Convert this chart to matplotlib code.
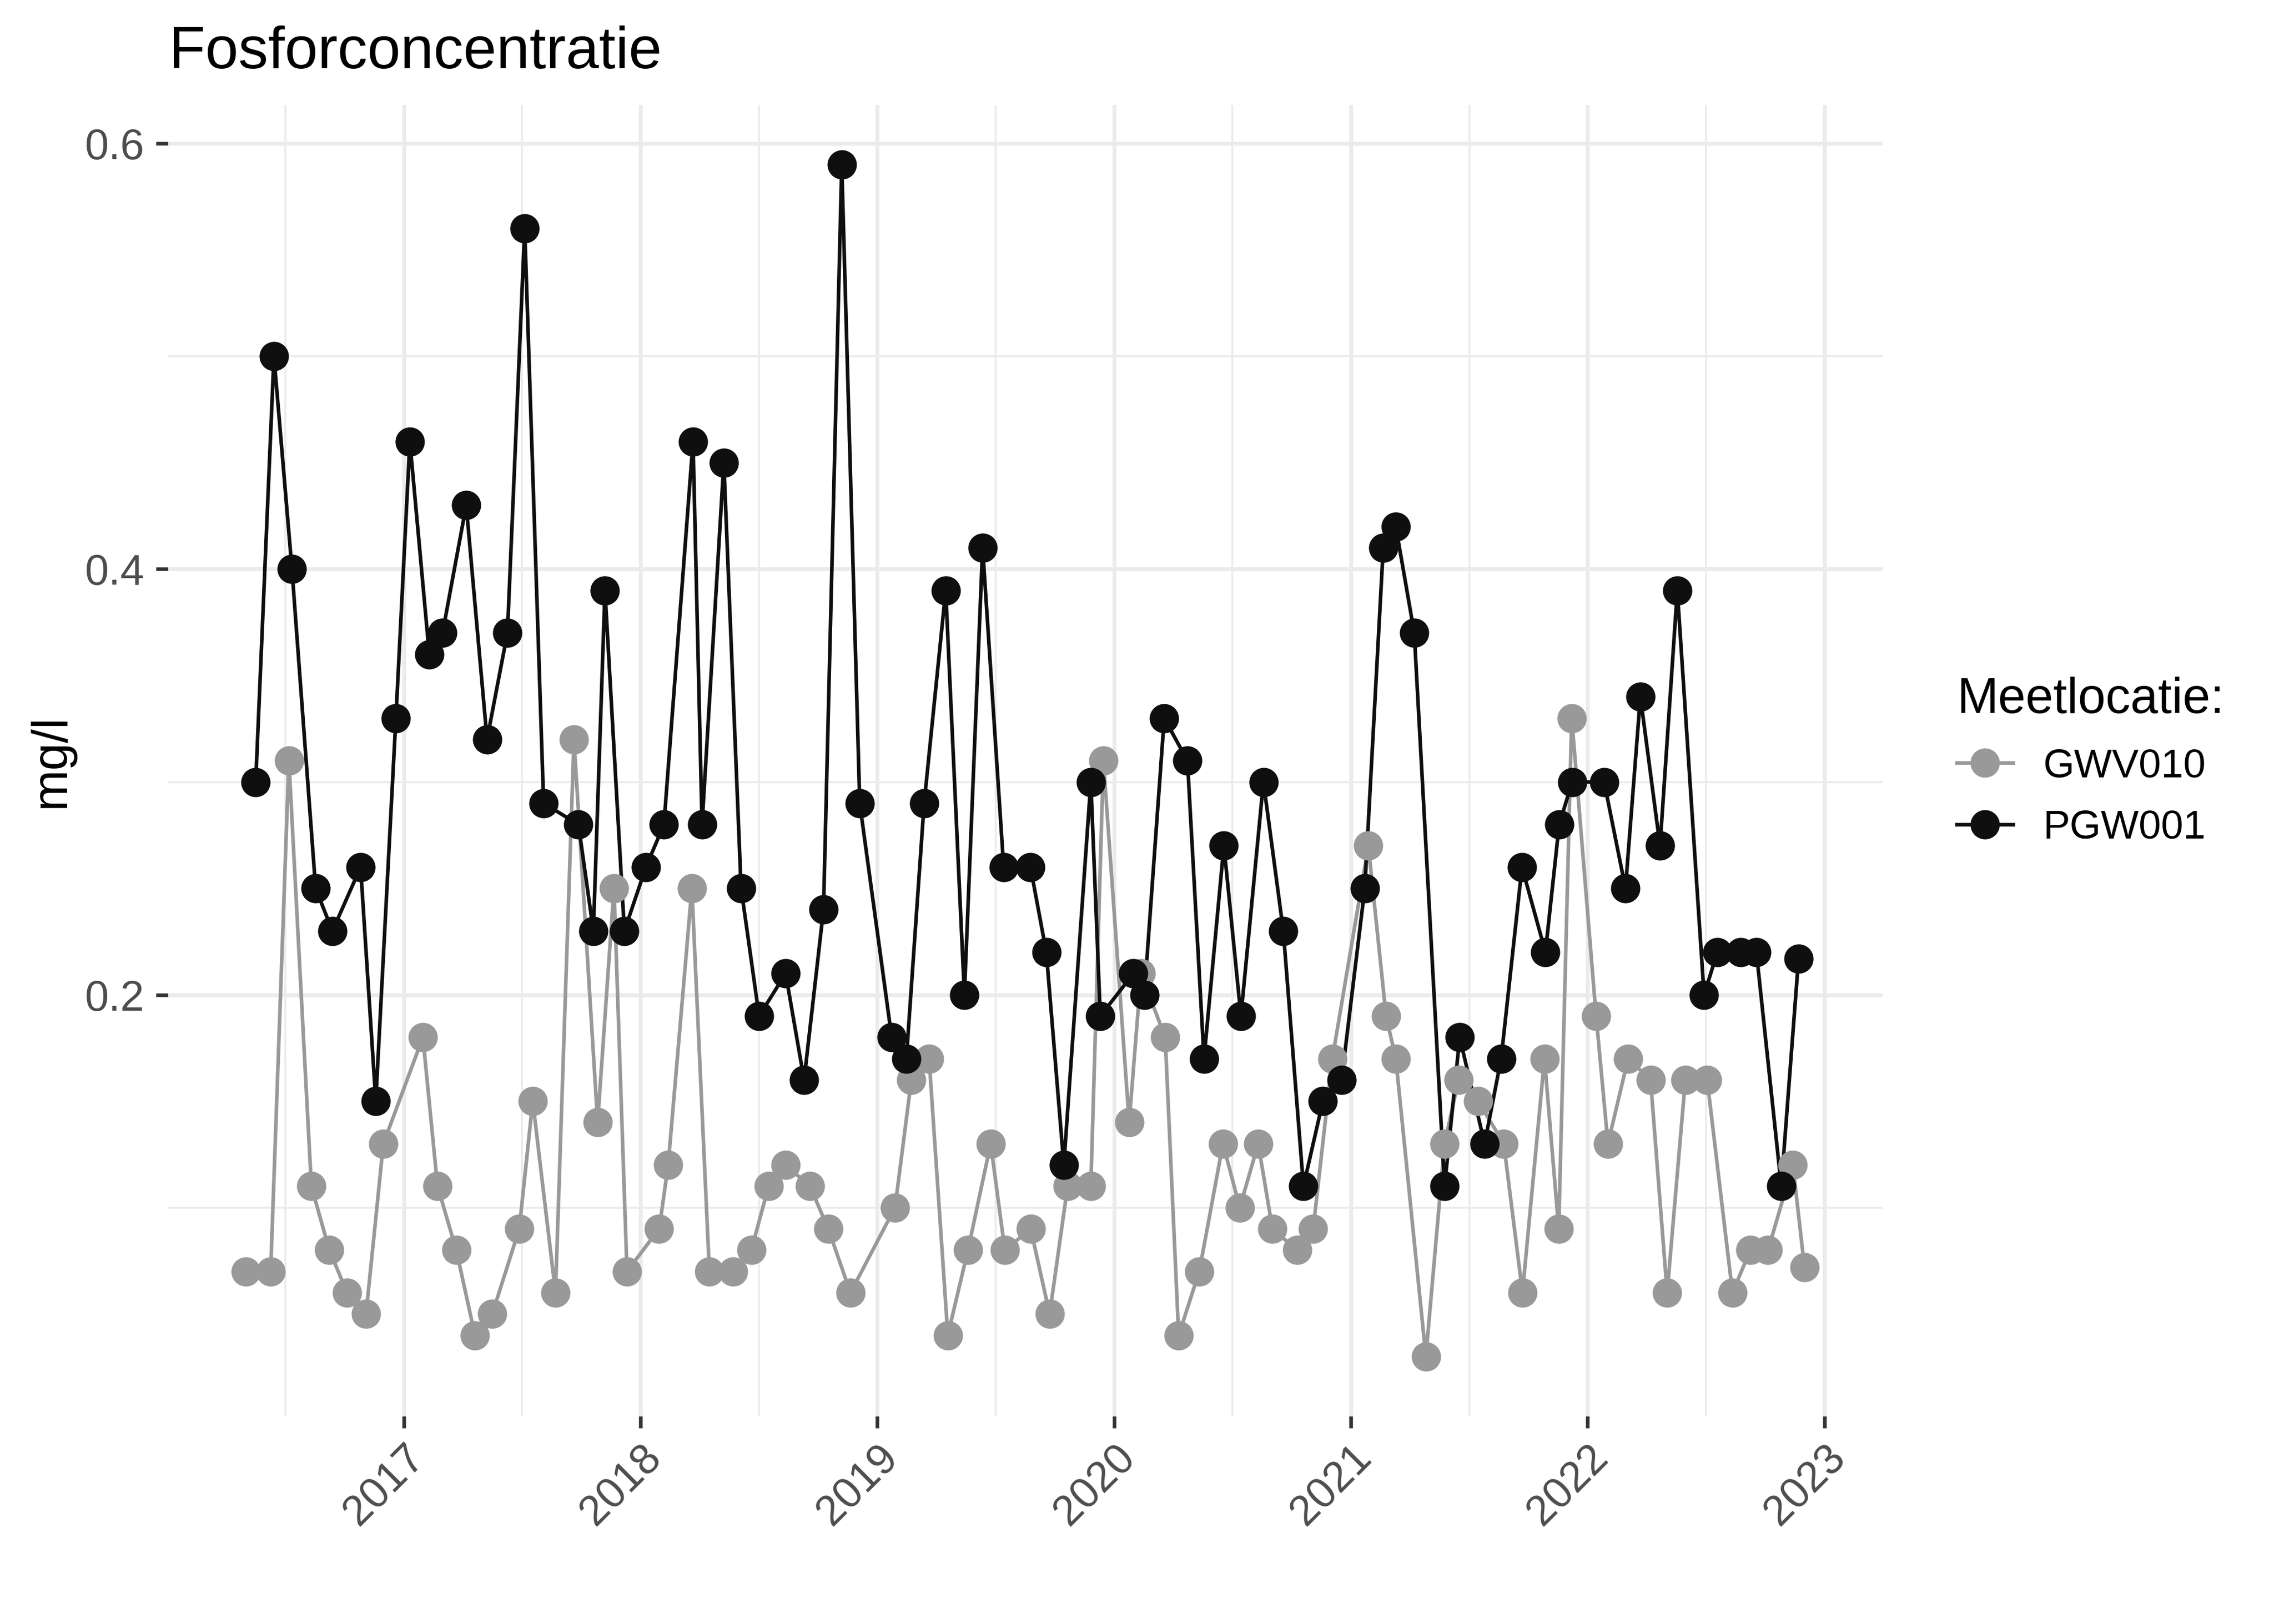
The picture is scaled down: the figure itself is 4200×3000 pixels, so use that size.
import matplotlib
matplotlib.use("Agg")
import matplotlib.pyplot as plt
from matplotlib.lines import Line2D

# ---- data (decimal years, mg/l) ----
gwv_dates = [2016.332, 2016.438, 2016.515, 2016.610, 2016.686, 2016.761, 2016.841, 2016.914,
             2017.081, 2017.143, 2017.222, 2017.301, 2017.374, 2017.488, 2017.545, 2017.641,
             2017.719, 2017.819, 2017.888, 2017.943, 2018.079, 2018.117, 2018.217, 2018.291,
             2018.391, 2018.468, 2018.541, 2018.613, 2018.716, 2018.793, 2018.887, 2019.075,
             2019.144, 2019.219, 2019.298, 2019.383, 2019.479, 2019.539, 2019.648, 2019.728,
             2019.804, 2019.902, 2019.955, 2020.064, 2020.114, 2020.216, 2020.273, 2020.360,
             2020.460, 2020.531, 2020.609, 2020.669, 2020.773, 2020.841, 2020.922, 2021.074,
             2021.149, 2021.190, 2021.317, 2021.396, 2021.455, 2021.538, 2021.646, 2021.725,
             2021.818, 2021.878, 2021.933, 2022.036, 2022.086, 2022.171, 2022.266, 2022.336,
             2022.413, 2022.505, 2022.612, 2022.687, 2022.762, 2022.867, 2022.916]
gwv_values = [0.07, 0.07, 0.31, 0.11, 0.08, 0.06, 0.05, 0.13,
              0.18, 0.11, 0.08, 0.04, 0.05, 0.09, 0.15, 0.06,
              0.32, 0.14, 0.25, 0.07, 0.09, 0.12, 0.25, 0.07,
              0.07, 0.08, 0.11, 0.12, 0.11, 0.09, 0.06, 0.10,
              0.16, 0.17, 0.04, 0.08, 0.13, 0.08, 0.09, 0.05,
              0.11, 0.11, 0.31, 0.14, 0.21, 0.18, 0.04, 0.07,
              0.13, 0.10, 0.13, 0.09, 0.08, 0.09, 0.17, 0.27,
              0.19, 0.17, 0.03, 0.13, 0.16, 0.15, 0.13, 0.06,
              0.17, 0.09, 0.33, 0.19, 0.13, 0.17, 0.16, 0.06,
              0.16, 0.16, 0.06, 0.08, 0.08, 0.12, 0.072]

pgw_dates = [2016.375, 2016.452, 2016.528, 2016.628, 2016.699, 2016.818, 2016.882, 2016.967,
             2017.026, 2017.108, 2017.164, 2017.264, 2017.352, 2017.438, 2017.511, 2017.591,
             2017.738, 2017.801, 2017.850, 2017.932, 2018.023, 2018.099, 2018.222, 2018.260,
             2018.352, 2018.425, 2018.501, 2018.613, 2018.691, 2018.773, 2018.850, 2018.926,
             2019.061, 2019.123, 2019.198, 2019.289, 2019.368, 2019.445, 2019.534, 2019.647,
             2019.714, 2019.788, 2019.902, 2019.942, 2020.082, 2020.128, 2020.212, 2020.310,
             2020.380, 2020.464, 2020.536, 2020.631, 2020.715, 2020.800, 2020.882, 2020.961,
             2021.059, 2021.137, 2021.190, 2021.268, 2021.396, 2021.460, 2021.565, 2021.635,
             2021.723, 2021.822, 2021.880, 2021.935, 2022.070, 2022.160, 2022.223, 2022.306,
             2022.379, 2022.492, 2022.548, 2022.646, 2022.713, 2022.818, 2022.891]
pgw_values = [0.30, 0.50, 0.40, 0.25, 0.23, 0.26, 0.15, 0.33,
              0.46, 0.36, 0.37, 0.43, 0.32, 0.37, 0.56, 0.29,
              0.28, 0.23, 0.39, 0.23, 0.26, 0.28, 0.46, 0.28,
              0.45, 0.25, 0.19, 0.21, 0.16, 0.24, 0.59, 0.29,
              0.18, 0.17, 0.29, 0.39, 0.20, 0.41, 0.26, 0.26,
              0.22, 0.12, 0.30, 0.19, 0.21, 0.20, 0.33, 0.31,
              0.17, 0.27, 0.19, 0.30, 0.23, 0.11, 0.15, 0.16,
              0.25, 0.41, 0.42, 0.37, 0.11, 0.18, 0.13, 0.17,
              0.26, 0.22, 0.28, 0.30, 0.30, 0.25, 0.34, 0.27,
              0.39, 0.20, 0.22, 0.22, 0.22, 0.11, 0.217]

series_names = ["GWV010", "PGW001"]
series_colors = ["#999999", "#0f0f0f"]
year_ticks = [2017, 2018, 2019, 2020, 2021, 2022, 2023]
year_minor = [2016.5, 2017.5, 2018.5, 2019.5, 2020.5, 2021.5, 2022.5]
y_ticks = [0.2, 0.4, 0.6]
y_minor = [0.1, 0.3, 0.5]
title = "Fosforconcentratie"
ylabel = "mg/l"
legend_title = "Meetlocatie:"

plt.rcParams['font.family'] = ['Liberation Sans', 'DejaVu Sans']

fig = plt.figure(figsize=(14, 10), dpi=300)
L, R, B, T = 0.0737, 0.8278, 0.128, 0.9352
ax = fig.add_axes([L, B, R - L, T - B])

lw = 1.6
ms = 13
data = [(gwv_dates, gwv_values), (pgw_dates, pgw_values)]
for i, ((d, v), c) in enumerate(zip(data, series_colors)):
    ax.plot(d, v, color=c, lw=lw, zorder=2 + 0.1 * i, solid_joinstyle='round')
for i, ((d, v), c) in enumerate(zip(data, series_colors)):
    ax.plot(d, v, ls='none', marker='o', ms=ms, mew=0, color=c, zorder=3 + 0.1 * i)

# ggplot-like expansion (5%)
alld = gwv_dates + pgw_dates
allv = gwv_values + pgw_values
dx = (max(alld) - min(alld)) * 0.05
dy = (max(allv) - min(allv)) * 0.05
ax.set_xlim(min(alld) - dx, max(alld) + dx)
ax.set_ylim(min(allv) - dy, max(allv) + dy)

for s in ax.spines.values():
    s.set_visible(False)

ax.set_xticks(year_ticks)
ax.set_xticks(year_minor, minor=True)
ax.set_yticks(y_ticks)
ax.set_yticks(y_minor, minor=True)
ax.set_xticklabels([str(y) for y in year_ticks], rotation=45, ha='right', va='top',
                   rotation_mode='anchor')
ax.set_yticklabels([f"{y:.1f}" for y in y_ticks])
ax.tick_params(which='major', length=5.2, width=1.6, color='#333333',
               labelsize=19, labelcolor='#4D4D4D', pad=5)
ax.tick_params(axis='x', which='major', pad=4)
ax.tick_params(which='minor', length=0)
ax.grid(which='major', color='#EBEBEB', lw=1.7, zorder=0)
ax.grid(which='minor', color='#EBEBEB', lw=0.85, zorder=0)
ax.set_axisbelow(True)

fig.text(L + 0.0005, 0.958, title, fontsize=26.4, ha='left', va='baseline', color='black')
fig.text(0.0225, B + (T - B) / 2, ylabel, fontsize=22, rotation=90, ha='center', va='center')

handles = [Line2D([0], [0], color=c, lw=lw, marker='o', ms=ms, mew=0) for c in series_colors]
leg = fig.legend(handles, series_names, title=legend_title, loc='center left',
                 bbox_to_anchor=(0.8605, 0.531), frameon=False, fontsize=17.8,
                 title_fontsize=22, handlelength=1.4, handletextpad=0.75,
                 labelspacing=0.6, borderpad=0, borderaxespad=0, alignment='left')

fig.savefig("out.png", dpi=300, facecolor='white')
